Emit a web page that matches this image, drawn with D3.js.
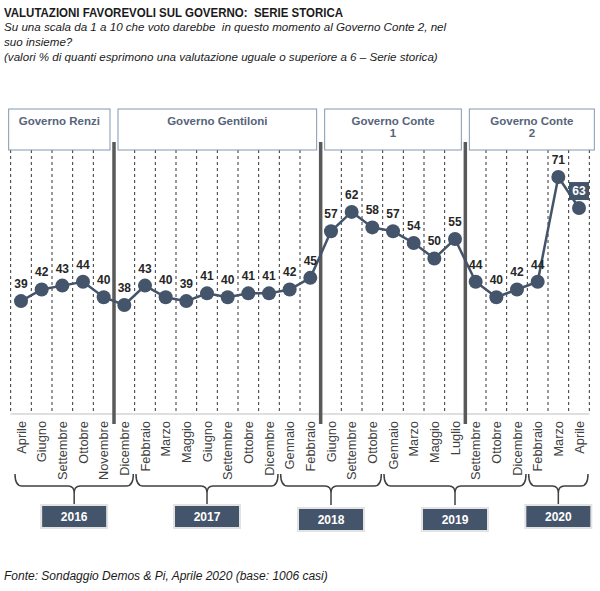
<!DOCTYPE html>
<html>
<head>
<meta charset="utf-8">
<script src="https://cdn.jsdelivr.net/npm/d3@7"></script>
<style>
  html, body { margin: 0; padding: 0; background: #fff; }
  svg { display: block; }
</style>
</head>
<body>
<script>
// ---- DATA ----
const months = ["Aprile","Giugno","Settembre","Ottobre","Novembre","Dicembre",
  "Febbraio","Marzo","Maggio","Giugno","Settembre","Ottobre","Dicembre",
  "Gennaio","Febbraio","Giugno","Settembre","Ottobre",
  "Gennaio","Marzo","Maggio","Luglio","Settembre","Ottobre","Dicembre",
  "Febbraio","Marzo","Aprile"];
const values = [39,42,43,44,40,38, 43,40,39,41,40,41,41, 42,45,57,62,58, 57,54,50,55,44,40,42, 44,71,63];
const years = ["2016","2017","2018","2019","2020"];
const yearStart = [0,6,13,18,25];
const yearEnd = [5,12,17,24,27];
const govNames = [["Governo Renzi"],["Governo Gentiloni"],["Governo Conte","1"],["Governo Conte","2"]];
const govStart = [0,5,15,22];
const govEnd = [4,14,21,27];

const W = 600, H = 591;
const svg = d3.select("body").append("svg").attr("width", W).attr("height", H);
const font = "Arial, 'Liberation Sans', sans-serif";
const dark = "#44546A";

// Titles
svg.append("text").attr("x", 4).attr("y", 17)
  .attr("font-family", font).attr("font-weight", "bold").attr("font-size", 13)
  .attr("textLength", 339).attr("lengthAdjust", "spacingAndGlyphs")
  .attr("fill", "#1a1a1a").attr("xml:space", "preserve")
  .text("VALUTAZIONI FAVOREVOLI SUL GOVERNO:  SERIE STORICA");
const sub = ["Su una scala da 1 a 10 che voto darebbe  in questo momento al Governo Conte 2, nel",
  "suo insieme?",
  "(valori % di quanti esprimono una valutazione uguale o superiore a 6 \u2013 Serie storica)"];
sub.forEach((s, i) => {
  svg.append("text").attr("x", 4).attr("y", 31 + i * 15)
    .attr("font-family", font).attr("font-style", "italic").attr("font-size", 11.6)
    .attr("fill", "#1a1a1a").attr("xml:space", "preserve").text(s);
});
svg.append("text").attr("x", 4).attr("y", 580)
  .attr("font-family", font).attr("font-style", "italic").attr("font-size", 12)
  .attr("fill", "#1a1a1a").text("Fonte: Sondaggio Demos & Pi, Aprile 2020 (base: 1006 casi)");

// Scales
const x = d3.scalePoint().domain(d3.range(values.length)).range([21, 579]);
const step = x.step();
const y = d3.scaleLinear().domain([38, 71]).range([305, 177]);
const axisY = 414;
const div = k => x(0) - step / 2 + k * step;

// Dividers
const thickK = govStart.slice(1);
const g = svg.append("g");
for (let k = 0; k <= values.length; k++) {
  if (thickK.includes(k)) continue;
  g.append("line").attr("x1", div(k)).attr("x2", div(k)).attr("y1", 150).attr("y2", axisY)
    .attr("stroke", "#333").attr("stroke-width", 1).attr("stroke-dasharray", "3,3");
}
g.append("line").attr("x1", div(0)).attr("x2", div(values.length)).attr("y1", axisY).attr("y2", axisY)
  .attr("stroke", "#bfbfbf").attr("stroke-width", 1);
thickK.forEach(k => {
  g.append("line").attr("x1", div(k)).attr("x2", div(k)).attr("y1", 142).attr("y2", 424)
    .attr("stroke", "#595959").attr("stroke-width", 3.5);
});

// Government boxes
govNames.forEach((names, i) => {
  const l = i === 0 ? div(govStart[i]) - 2 : div(govStart[i]) + 4;
  const r = i === govNames.length - 1 ? div(govEnd[i] + 1) + 5 : div(govEnd[i] + 1) - 4;
  svg.append("rect").attr("x", l).attr("y", 109).attr("width", r - l).attr("height", 41)
    .attr("fill", "#fff").attr("stroke", "#8497B0").attr("stroke-width", 1);
  names.forEach((n, j) => {
    svg.append("text").attr("x", (l + r) / 2).attr("y", 125 + j * 12)
      .attr("text-anchor", "middle").attr("font-family", font).attr("font-weight", "bold")
      .attr("font-size", 11.5).attr("fill", "#56647a").text(n);
  });
});

// Line + points
svg.append("path").datum(values)
  .attr("d", d3.line().x((d, i) => x(i)).y(d => y(d)))
  .attr("fill", "none").attr("stroke", dark).attr("stroke-width", 2.5);
svg.selectAll("circle.pt").data(values).join("circle").attr("class", "pt")
  .attr("cx", (d, i) => x(i)).attr("cy", d => y(d)).attr("r", 7).attr("fill", dark);

// Value labels
const last = values.length - 1;
svg.selectAll("text.val").data(values).join("text").attr("class", "val")
  .filter((d, i) => i !== last)
  .attr("x", (d, i) => x(i)).attr("y", d => y(d) - 13)
  .attr("text-anchor", "middle").attr("font-family", font).attr("font-weight", "bold")
  .attr("font-size", 12).attr("fill", "#262626").text(d => d);
svg.append("rect").attr("x", x(last) - 10).attr("y", y(values[last]) - 26)
  .attr("width", 20).attr("height", 18).attr("fill", dark);
svg.append("text").attr("x", x(last)).attr("y", y(values[last]) - 13)
  .attr("text-anchor", "middle").attr("font-family", font).attr("font-weight", "bold")
  .attr("font-size", 12).attr("fill", "#fff").text(values[last]);

// Month labels
svg.selectAll("text.mon").data(months).join("text").attr("class", "mon")
  .attr("transform", (d, i) => `translate(${x(i) + 4.5},421) rotate(-90)`)
  .attr("text-anchor", "end").attr("font-family", font).attr("font-size", 12.8)
  .attr("fill", "#404040").text(d => d);

// Braces and year boxes
years.forEach((yr, i) => {
  const x1 = (i === 0 ? x(yearStart[i]) - 6 : x(yearStart[i]) - 9);
  const x2 = x(yearEnd[i]) + 9;
  const cx = (x1 + x2) / 2;
  const top = 474, mid = 486, bot = 505;
  const p = `M${x1},${top} Q${x1},${mid} ${x1 + 7},${mid} L${cx - 6},${mid} Q${cx},${mid} ${cx},${mid + 7} L${cx},${bot}` +
    ` M${cx},${mid + 7} Q${cx},${mid} ${cx + 6},${mid} L${x2 - 7},${mid} Q${x2},${mid} ${x2},${top}`;
  svg.append("path").attr("d", p).attr("fill", "none").attr("stroke", "#404040").attr("stroke-width", 1.5);
  const by = (i === 2 || i === 3) ? 508 : 505;
  svg.append("rect").attr("x", cx - 33).attr("y", by).attr("width", 66).attr("height", 23)
    .attr("fill", dark).attr("stroke", "#e3e3e3").attr("stroke-width", 2);
  svg.append("text").attr("x", cx).attr("y", by + 16).attr("text-anchor", "middle")
    .attr("font-family", font).attr("font-weight", "bold").attr("font-size", 12)
    .attr("fill", "#fff").text(yr);
});
</script>
</body>
</html>
